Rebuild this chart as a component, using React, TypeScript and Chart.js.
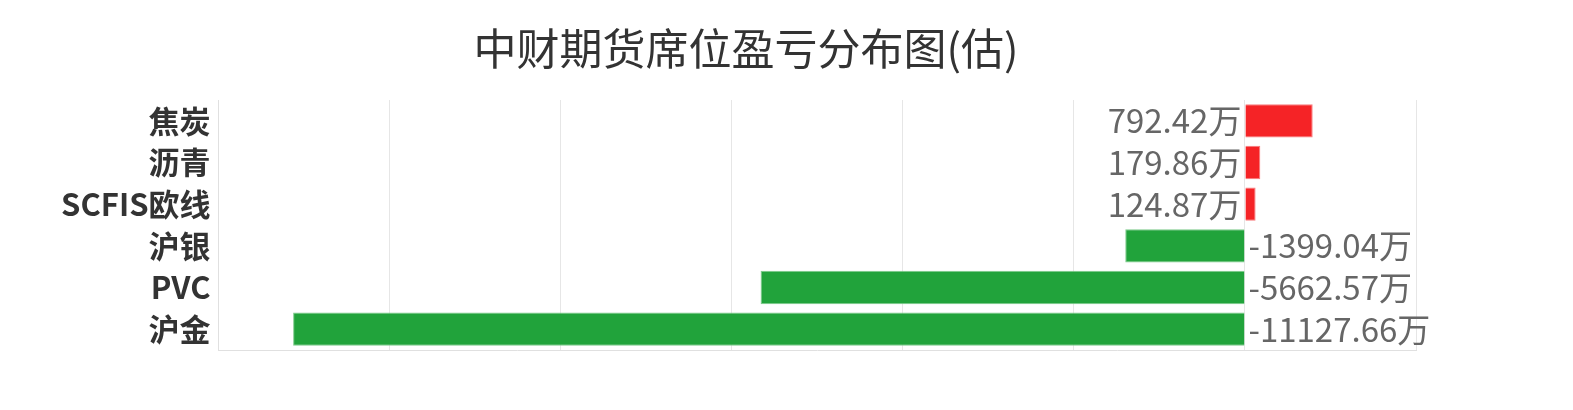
import React, { useEffect, useRef } from 'react';
import { Chart, registerables } from 'chart.js';

Chart.register(...registerables);

const FONT = '"Noto Sans CJK SC", "Noto Sans", sans-serif';

// 品种
const categories = ['焦炭', '沥青', 'SCFIS欧线', '沪银', 'PVC', '沪金'];
// 盈亏(万)
const profitLoss = [792.42, 179.86, 124.87, -1399.04, -5662.57, -11127.66];

const xMin = -12000;
const xMax = 2000;
const xStep = 2000;

const UP = '#f52326';
const UP_BORDER = '#f87c7e';
const DOWN = '#21a33b';
const DOWN_BORDER = '#7ccb8a';

// draws "xxx万" next to the zero line of each bar
const valueLabels = {
  id: 'valueLabels',
  afterDatasetsDraw(chart: any) {
    const ctx = chart.ctx;
    const meta = chart.getDatasetMeta(0);
    const data = chart.data.datasets[0].data as number[];
    ctx.save();
    ctx.font = `33px ${FONT}`;
    ctx.fillStyle = '#666';
    ctx.textBaseline = 'middle';
    meta.data.forEach((bar: any, i: number) => {
      const v = data[i];
      const text = v.toFixed(2) + '万';
      if (v >= 0) {
        ctx.textAlign = 'right';
        ctx.fillText(text, bar.base - 4, bar.y);
      } else {
        ctx.textAlign = 'left';
        ctx.fillText(text, bar.base + 4, bar.y);
      }
    });
    ctx.restore();
  },
};

const ProfitLossChart: React.FC = () => {
  const canvasRef = useRef<HTMLCanvasElement>(null);
  const chartInstance = useRef<Chart | null>(null);

  useEffect(() => {
    if (!canvasRef.current) return;
    if (chartInstance.current) chartInstance.current.destroy();

    chartInstance.current = new Chart(canvasRef.current, {
      type: 'bar',
      data: {
        labels: categories,
        datasets: [
          {
            data: profitLoss,
            backgroundColor: profitLoss.map(v => (v >= 0 ? UP : DOWN)),
            borderColor: profitLoss.map(v => (v >= 0 ? UP_BORDER : DOWN_BORDER)),
            borderWidth: 1,
            categoryPercentage: 1,
            barPercentage: 0.8,
          },
        ],
      },
      options: {
        indexAxis: 'y',
        responsive: false,
        animation: false,
        layout: { padding: { top: 92, bottom: 52, right: 149, left: 0 } },
        plugins: {
          legend: { display: false },
          tooltip: { enabled: false },
          title: { display: false },
        },
        scales: {
          x: {
            min: xMin,
            max: xMax,
            ticks: { display: false, stepSize: xStep },
            grid: { color: '#e6e6e6', drawTicks: false },
            border: { display: true, color: '#e0e0e0' },
            afterFit: (scale: any) => {
              scale.height = 0;
            },
          },
          y: {
            ticks: {
              color: '#333',
              padding: 8,
              font: { family: FONT, size: 31, weight: 'bold' },
            },
            grid: { display: false, drawTicks: false },
            border: { display: true, color: '#e0e0e0' },
            afterFit: (scale: any) => {
              scale.width = 210.5;
            },
          },
        },
      },
      plugins: [valueLabels],
    });

    return () => {
      if (chartInstance.current) {
        chartInstance.current.destroy();
        chartInstance.current = null;
      }
    };
  }, []);

  return (
    <div style={{ position: 'relative', width: 1557, height: 394 }}>
      <div
        style={{
          position: 'absolute',
          top: 17,
          left: 0,
          width: 1476,
          textAlign: 'center',
          fontFamily: FONT,
          fontSize: 43,
          lineHeight: '43px',
          color: '#333',
        }}
      >
        中财期货席位盈亏分布图(估)
      </div>
      <canvas ref={canvasRef} width={1557} height={394} />
    </div>
  );
};

export default function App() {
  return <ProfitLossChart />;
}
